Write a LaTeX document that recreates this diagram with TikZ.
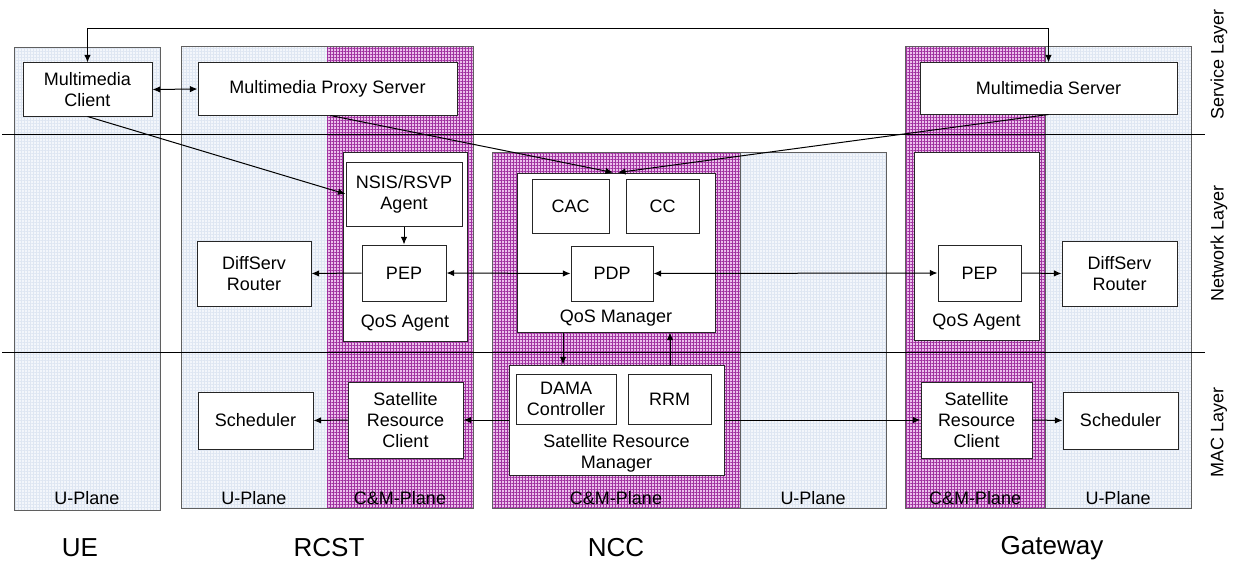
\documentclass[tikz,border=0pt]{standalone}
\usepackage{fontspec}
\setmainfont{Liberation Sans}
\usepackage{tikz}
\usetikzlibrary{arrows.meta, positioning, calc, patterns.meta}
\definecolor{cmPink}{RGB}{236,192,236}
\definecolor{cmPurple}{RGB}{160,50,160}
\definecolor{upBlue}{RGB}{243,246,251}
\definecolor{upGrid}{RGB}{222,230,242}
\definecolor{frameGrey}{RGB}{95,95,95}

\begin{document}
\begin{tikzpicture}[
    x=0.5pt, y=-0.5pt,
    font=\fontsize{9}{10.5}\selectfont,
    box/.style={draw=black!85, fill=white, line width=0.5pt, align=center,
                inner sep=1pt, anchor=center},
    cmfill/.style={preaction={fill=cmPink},
                   pattern={Hatch[distance=1.5pt, line width=0.3pt]},
                   pattern color=cmPurple},
    upfill/.style={preaction={fill=upBlue},
                   pattern={Hatch[distance=1.5pt, line width=0.3pt]},
                   pattern color=upGrid},
    frame/.style={draw=frameGrey, line width=0.5pt},
    arr/.style={-{Latex[length=3.8pt,width=3.2pt]}, line width=0.5pt},
    dblarr/.style={{Latex[length=3.8pt,width=3.2pt]}-{Latex[length=3.8pt,width=3.2pt]},
                   line width=0.5pt},
    bigtext/.style={font=\fontsize{13}{15}\selectfont}
]
\useasboundingbox (0,0) rectangle (1234,567);

% Plane columns
\fill[upfill] (14,48) rectangle (160,510);
\draw[frame] (14,48) rectangle (160,510);
\fill[upfill] (181,47) rectangle (327,508);
\fill[cmfill] (327,47) rectangle (473,508);
\draw[frame] (181,47) rectangle (473,508);
\fill[cmfill] (492,152) rectangle (740,508);
\draw[frame] (492,152) rectangle (740,508);
\fill[upfill] (740,152) rectangle (886,508);
\draw[frame] (740,152) rectangle (886,508);
\fill[cmfill] (905,47) rectangle (1045,508);
\fill[upfill] (1045,47) rectangle (1191,508);
\draw[frame] (905,47) rectangle (1191,508);
\draw[frame] (1045,47) -- (1045,508);

% Layer separators
\draw[line width=0.5pt] (2,134) -- (1205,134);
\draw[line width=0.5pt] (2,352) -- (1205,352);

% Plane labels
\foreach \px/\lbl [count=\k] in {87/U-Plane, 254/U-Plane, 400/C\&M-Plane,
                                 616/C\&M-Plane, 813/U-Plane, 975/C\&M-Plane,
                                 1118/U-Plane} {
   \node (plane\k) at (\px,498) {\lbl};
}

% Layer labels
\foreach \py/\lbl [count=\k] in {64/Service Layer, 243/Network Layer, 432/MAC Layer} {
   \node[rotate=90] (layer\k) at (1219,\py) {\lbl};
}

% Entity labels
\node[bigtext] (ue)   at (80,548)   {UE};
\node[bigtext] (rcst) at (329,548)  {RCST};
\node[bigtext] (ncc)  at (616,548)  {NCC};
\node[bigtext] (gw)   at (1052,548) {Gateway};

% Service layer
\node[box, minimum width=64.5pt, minimum height=26.5pt] (mmc) at (87.5,89.5)
     {Multimedia\\Client};
\node[box, minimum width=129.5pt, minimum height=26pt] (proxy) at (327.5,89)
     {Multimedia Proxy Server};
\node[box, minimum width=128.5pt, minimum height=25.5pt] (mms) at (1048.5,88.5)
     {Multimedia Server};

% Network layer, RCST side
\node[box, minimum width=62pt, minimum height=94.5pt] (qosR) at (405,246.5) {};
\node (qosRlbl) at (405,323) {QoS Agent};
\node[box, minimum width=58pt, minimum height=32pt] (nsis) at (404,194)
     {NSIS/RSVP\\Agent};
\node[box, minimum width=42pt, minimum height=28pt] (pepR) at (404,273) {PEP};
\node[box, minimum width=57pt, minimum height=32.5pt] (diffR) at (254,273.5)
     {DiffServ\\Router};

% Network layer, NCC
\node[box, minimum width=99pt, minimum height=79.5pt] (qosM) at (616,252.5) {};
\node (qosMlbl) at (616,318) {QoS Manager};
\node[box, minimum width=38.5pt, minimum height=27pt] (cac) at (570.5,206) {CAC};
\node[box, minimum width=36.5pt, minimum height=27pt] (cc) at (662.5,206) {CC};
\node[box, minimum width=41pt, minimum height=27.5pt] (pdp) at (612,273.5) {PDP};

% Network layer, Gateway side
\node[box, minimum width=62.5pt, minimum height=94pt] (qosG) at (976.5,246) {};
\node (qosGlbl) at (976.5,322) {QoS Agent};
\node[box, minimum width=41.5pt, minimum height=28pt] (pepG) at (979.5,273) {PEP};
\node[box, minimum width=57.5pt, minimum height=32.5pt] (diffG) at (1119.5,273.5)
     {DiffServ\\Router};

% MAC layer
\node[box, minimum width=107.5pt, minimum height=55pt] (srm) at (616.5,420) {};
\node[align=center] (srmlbl) at (616.5,453) {Satellite Resource\\Manager};
\node[box, minimum width=50pt, minimum height=25pt] (dama) at (566,399)
     {DAMA\\Controller};
\node[box, minimum width=41.5pt, minimum height=25pt] (rrm) at (669.5,399) {RRM};
\node[box, minimum width=57.5pt, minimum height=38pt] (srcR) at (405.5,420)
     {Satellite\\Resource\\Client};
\node[box, minimum width=57.5pt, minimum height=28.5pt] (schR) at (255.5,420.5)
     {Scheduler};
\node[box, minimum width=55.5pt, minimum height=38pt] (srcG) at (976.5,420)
     {Satellite\\Resource\\Client};
\node[box, minimum width=57.5pt, minimum height=28.5pt] (schG) at (1120.5,420.5)
     {Scheduler};

% Signalling paths
\draw[dblarr] (mmc.north) -- (mmc.north |- 0,29) -| (mms.north);
\draw[dblarr] (mmc.east) -- (proxy.west);
\draw[arr] (mmc.south) -- (nsis.west);
\draw[arr] ([xshift=1.5pt]proxy.south) -- ([xshift=-1.5pt]qosM.north);
\draw[arr] (mms.south) -- ([xshift=1pt]qosM.north);
\draw[arr] (nsis.south) -- (pepR.north);
\draw[arr] (pepR.west) -- (diffR.east);
\draw[dblarr] (pepR.east) -- (pdp.west);
\draw[dblarr] (pdp.east) -- (pepG.west);
\draw[arr] (pepG.east) -- (diffG.west);
\draw[arr] (qosM.south -| 563,0) -- (srm.north -| 563,0);
\draw[arr] (srm.north -| 670,0) -- (qosM.south -| 670,0);
\draw[arr] (srm.west) -- (srcR.east);
\draw[arr] (srm.east) -- (srcG.west);
\draw[arr] (srcR.west) -- (schR.east);
\draw[arr] (srcG.east) -- (schG.west);
\end{tikzpicture}
\end{document}
